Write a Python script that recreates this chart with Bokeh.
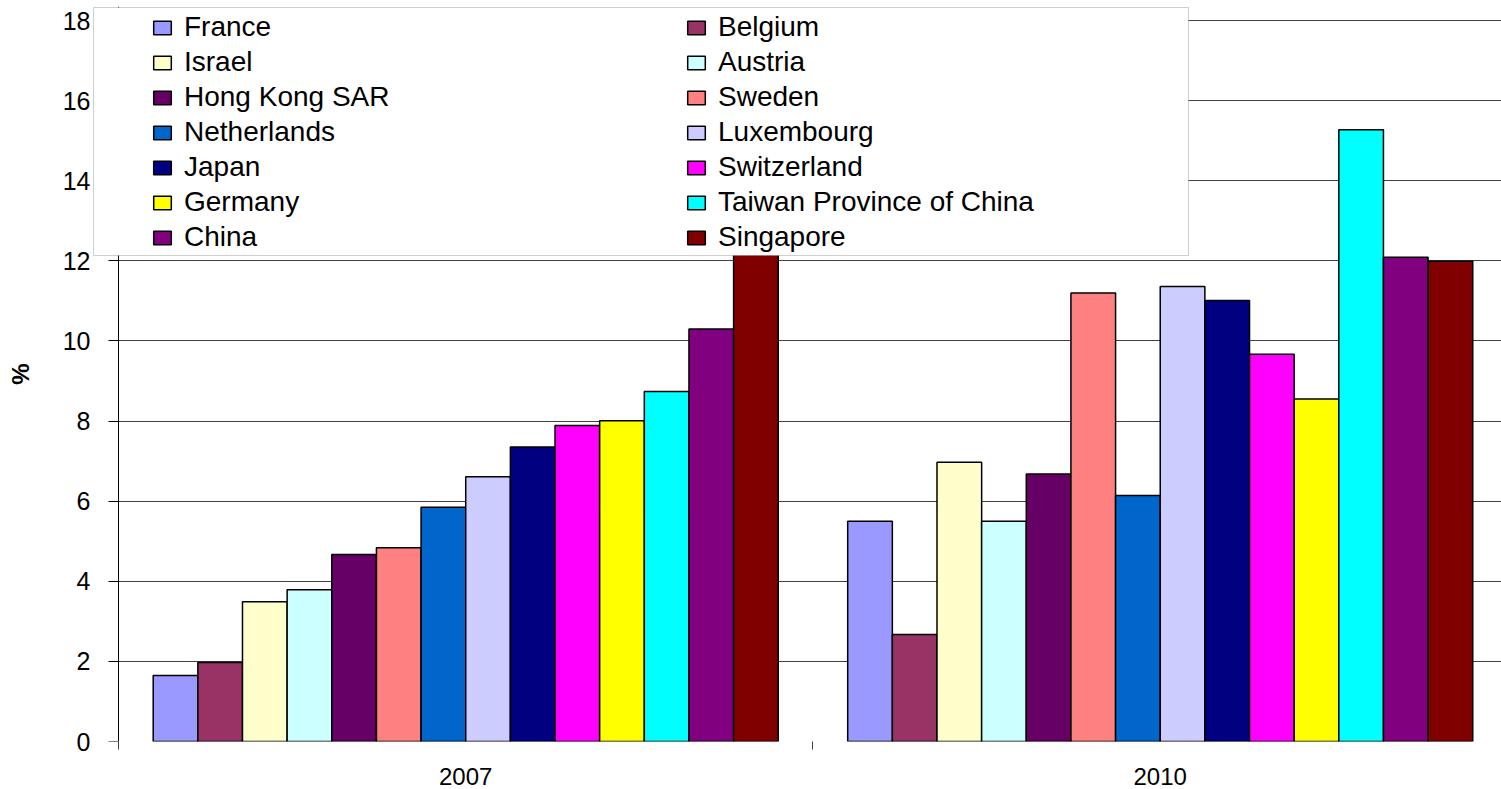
from bokeh.plotting import figure
from bokeh.models import (Range1d, ColumnDataSource, Legend, LegendItem,
                          BoxAnnotation, FixedTicker, LinearAxis)
from bokeh.transform import dodge
from bokeh.embed import file_html
from bokeh.resources import INLINE

years = ["2007", "2010"]
countries = ["France", "Belgium", "Israel", "Austria", "Hong Kong SAR", "Sweden",
             "Netherlands", "Luxembourg", "Japan", "Switzerland", "Germany",
             "Taiwan Province of China", "China", "Singapore"]
values_2007 = [1.65, 1.97, 3.49, 3.79, 4.67, 4.84, 5.85, 6.61, 7.35, 7.89, 8.01, 8.74, 10.30, 13.10]
values_2010 = [5.50, 2.67, 6.97, 5.50, 6.68, 11.20, 6.14, 11.36, 11.01, 9.67, 8.55, 15.27, 12.09, 11.99]
colors = ["#9999FF", "#993366", "#FFFFCC", "#CCFFFF", "#660066", "#FF8080", "#0066CC",
          "#CCCCFF", "#000080", "#FF00FF", "#FFFF00", "#00FFFF", "#800080", "#800000"]
y_ticks = [0, 2, 4, 6, 8, 10, 12, 14, 16, 18]

FONT = "Liberation Sans"
W, H = 1501, 789

# group k occupies [k, k+1] on the x scale; label at its centre
centres = [k + 0.5 for k in range(len(years))]
bounds = list(range(len(years) + 1))

p = figure(x_range=Range1d(-0.0374, 1.9914), y_range=Range1d(0, 18.35),
           width=W, height=H, output_backend="svg", toolbar_location=None,
           min_border_left=92, min_border_right=0, min_border_top=6, min_border_bottom=48)
p.outline_line_color = None
p.background_fill_color = "white"

n = len(countries)
group_width = 0.9
bw = group_width / n
renderers = []
for i, c in enumerate(countries):
    src = ColumnDataSource(dict(x=centres, val=[values_2007[i], values_2010[i]]))
    off = (i - (n - 1) / 2) * bw
    r = p.vbar(x=dodge("x", off), top="val", width=bw, source=src,
               fill_color=colors[i], line_color="#000000", line_width=1.5)
    renderers.append((c, r))

# y axis line + ticks at the left edge of the first group (inside the frame)
yline = p.yaxis[0]
yline.fixed_location = 0
yline.ticker = FixedTicker(ticks=y_ticks)
yline.major_tick_out = 10
yline.major_tick_in = 0
yline.minor_tick_line_color = None
yline.axis_line_color = "#000000"
yline.major_tick_line_color = "#000000"
yline.major_label_text_font_size = "0px"
yline.major_label_text_alpha = 0

# y tick labels + title in the left panel
ylab = LinearAxis(ticker=FixedTicker(ticks=y_ticks))
ylab.axis_line_color = None
ylab.major_tick_line_color = None
ylab.minor_tick_line_color = None
ylab.major_tick_out = 0
ylab.major_tick_in = 0
ylab.major_label_text_font = FONT
ylab.major_label_text_font_size = "25px"
ylab.major_label_text_color = "#000000"
ylab.major_label_standoff = 2
ylab.axis_label = "%"
ylab.axis_label_text_font = FONT
ylab.axis_label_text_font_style = "bold"
ylab.axis_label_text_font_size = "24px"
ylab.axis_label_text_color = "#000000"
ylab.axis_label_standoff = 26
p.add_layout(ylab, "left")

# x axis: labels at group centres, small separator ticks at group boundaries
p.xaxis.ticker = FixedTicker(ticks=centres, minor_ticks=bounds)
p.xaxis.major_label_overrides = {centres[k]: years[k] for k in range(len(years))}
p.xaxis.major_tick_line_color = None
p.xaxis.minor_tick_line_color = "#404040"
p.xaxis.minor_tick_out = 8
p.xaxis.minor_tick_in = 0
p.xaxis.axis_line_color = None
p.xaxis.major_label_text_font = FONT
p.xaxis.major_label_text_font_size = "24px"
p.xaxis.major_label_text_color = "#000000"
p.xaxis.major_label_standoff = 18

p.xgrid.grid_line_color = None
p.ygrid.grid_line_color = "#404040"
p.ygrid.grid_line_width = 1
p.ygrid.ticker = FixedTicker(ticks=y_ticks)
try:
    p.ygrid.cross_bounds = (0, 1.9914)
except Exception:
    pass

# legend box
box = BoxAnnotation(left=93, right=1188, top=7, bottom=255,
                    left_units="canvas", right_units="canvas",
                    top_units="canvas", bottom_units="canvas",
                    fill_color="white", fill_alpha=1.0,
                    line_color="#606060", line_width=1)
p.add_layout(box)

# legend fills column by column: first column = even series, second = odd series
order = list(range(0, n, 2)) + list(range(1, n, 2))
items = [LegendItem(label=renderers[k][0], renderers=[renderers[k][1]]) for k in order]
legend = Legend(items=items, ncols=2, location=(59, 488),
                label_text_font=FONT, label_text_font_size="28px",
                label_text_color="#000000",
                label_height=30, glyph_height=17, glyph_width=22,
                label_standoff=11, label_width=498, spacing=3, padding=2,
                border_line_color=None, background_fill_alpha=0.0)
p.add_layout(legend)

open("out.html", "w").write(file_html(p, INLINE))
